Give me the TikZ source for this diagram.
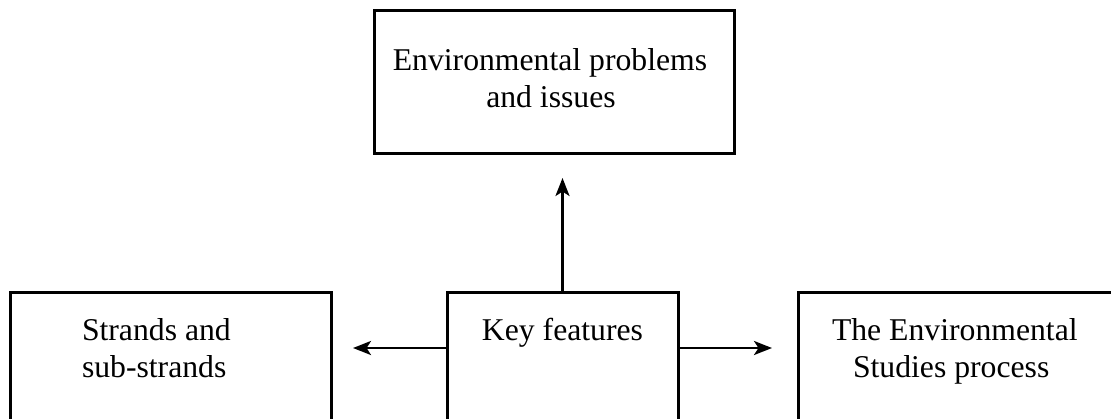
\documentclass[tikz,border=0pt]{standalone}
\usepackage{fontspec}
\setmainfont{Liberation Serif}
\usetikzlibrary{arrows.meta}
\begin{document}
\begin{tikzpicture}[x=1pt,y=-1pt,
  box/.style={draw, line width=3pt, outer sep=0pt, inner sep=0pt, anchor=north west},
  lbl/.style={inner sep=0pt, outer sep=0pt, font=\fontsize{31.7}{37}\selectfont},
  link/.style={line width=2.8pt, -{Stealth[length=18pt,width=14pt,inset=4.5pt]}}]
\useasboundingbox (0,0) rectangle (1111,418);
\clip (0,0) rectangle (1111,418);
% boxes (the lower row runs past the lower and right edges)
\node[box, minimum width=360pt, minimum height=143pt] (issues) at (374,10) {};
\node[box, minimum width=321pt, minimum height=200pt] (strands) at (10,292) {};
\node[box, minimum width=231pt, minimum height=200pt] (key) at (447,292) {};
\node[box, minimum width=400pt, minimum height=200pt] (process) at (798,292) {};
% labels
\node[lbl, anchor=base] (t1) at (550,70) {Environmental problems};
\node[lbl, anchor=base] (t2) at (551,107) {and issues};
\node[lbl, anchor=base west] (s1) at (82,340) {Strands and};
\node[lbl, anchor=base west] (s2) at (82,377) {sub-strands};
\node[lbl, anchor=base] (k1) at (562.5,340) {Key features};
\node[lbl, anchor=base west] (p1) at (832,340) {The Environmental};
\node[lbl, anchor=base west] (p2) at (853,377) {Studies process};
% arrow ends
\coordinate (uptip) at (562.5,178);
\coordinate (lefttip) at (353,348);
\coordinate (righttip) at (772,348);
% connectors
\draw[link] (key.north) -- (uptip);
\draw[link] (key.west |- lefttip) -- (lefttip);
\draw[link] (key.east |- righttip) -- (righttip);
\end{tikzpicture}
\end{document}
